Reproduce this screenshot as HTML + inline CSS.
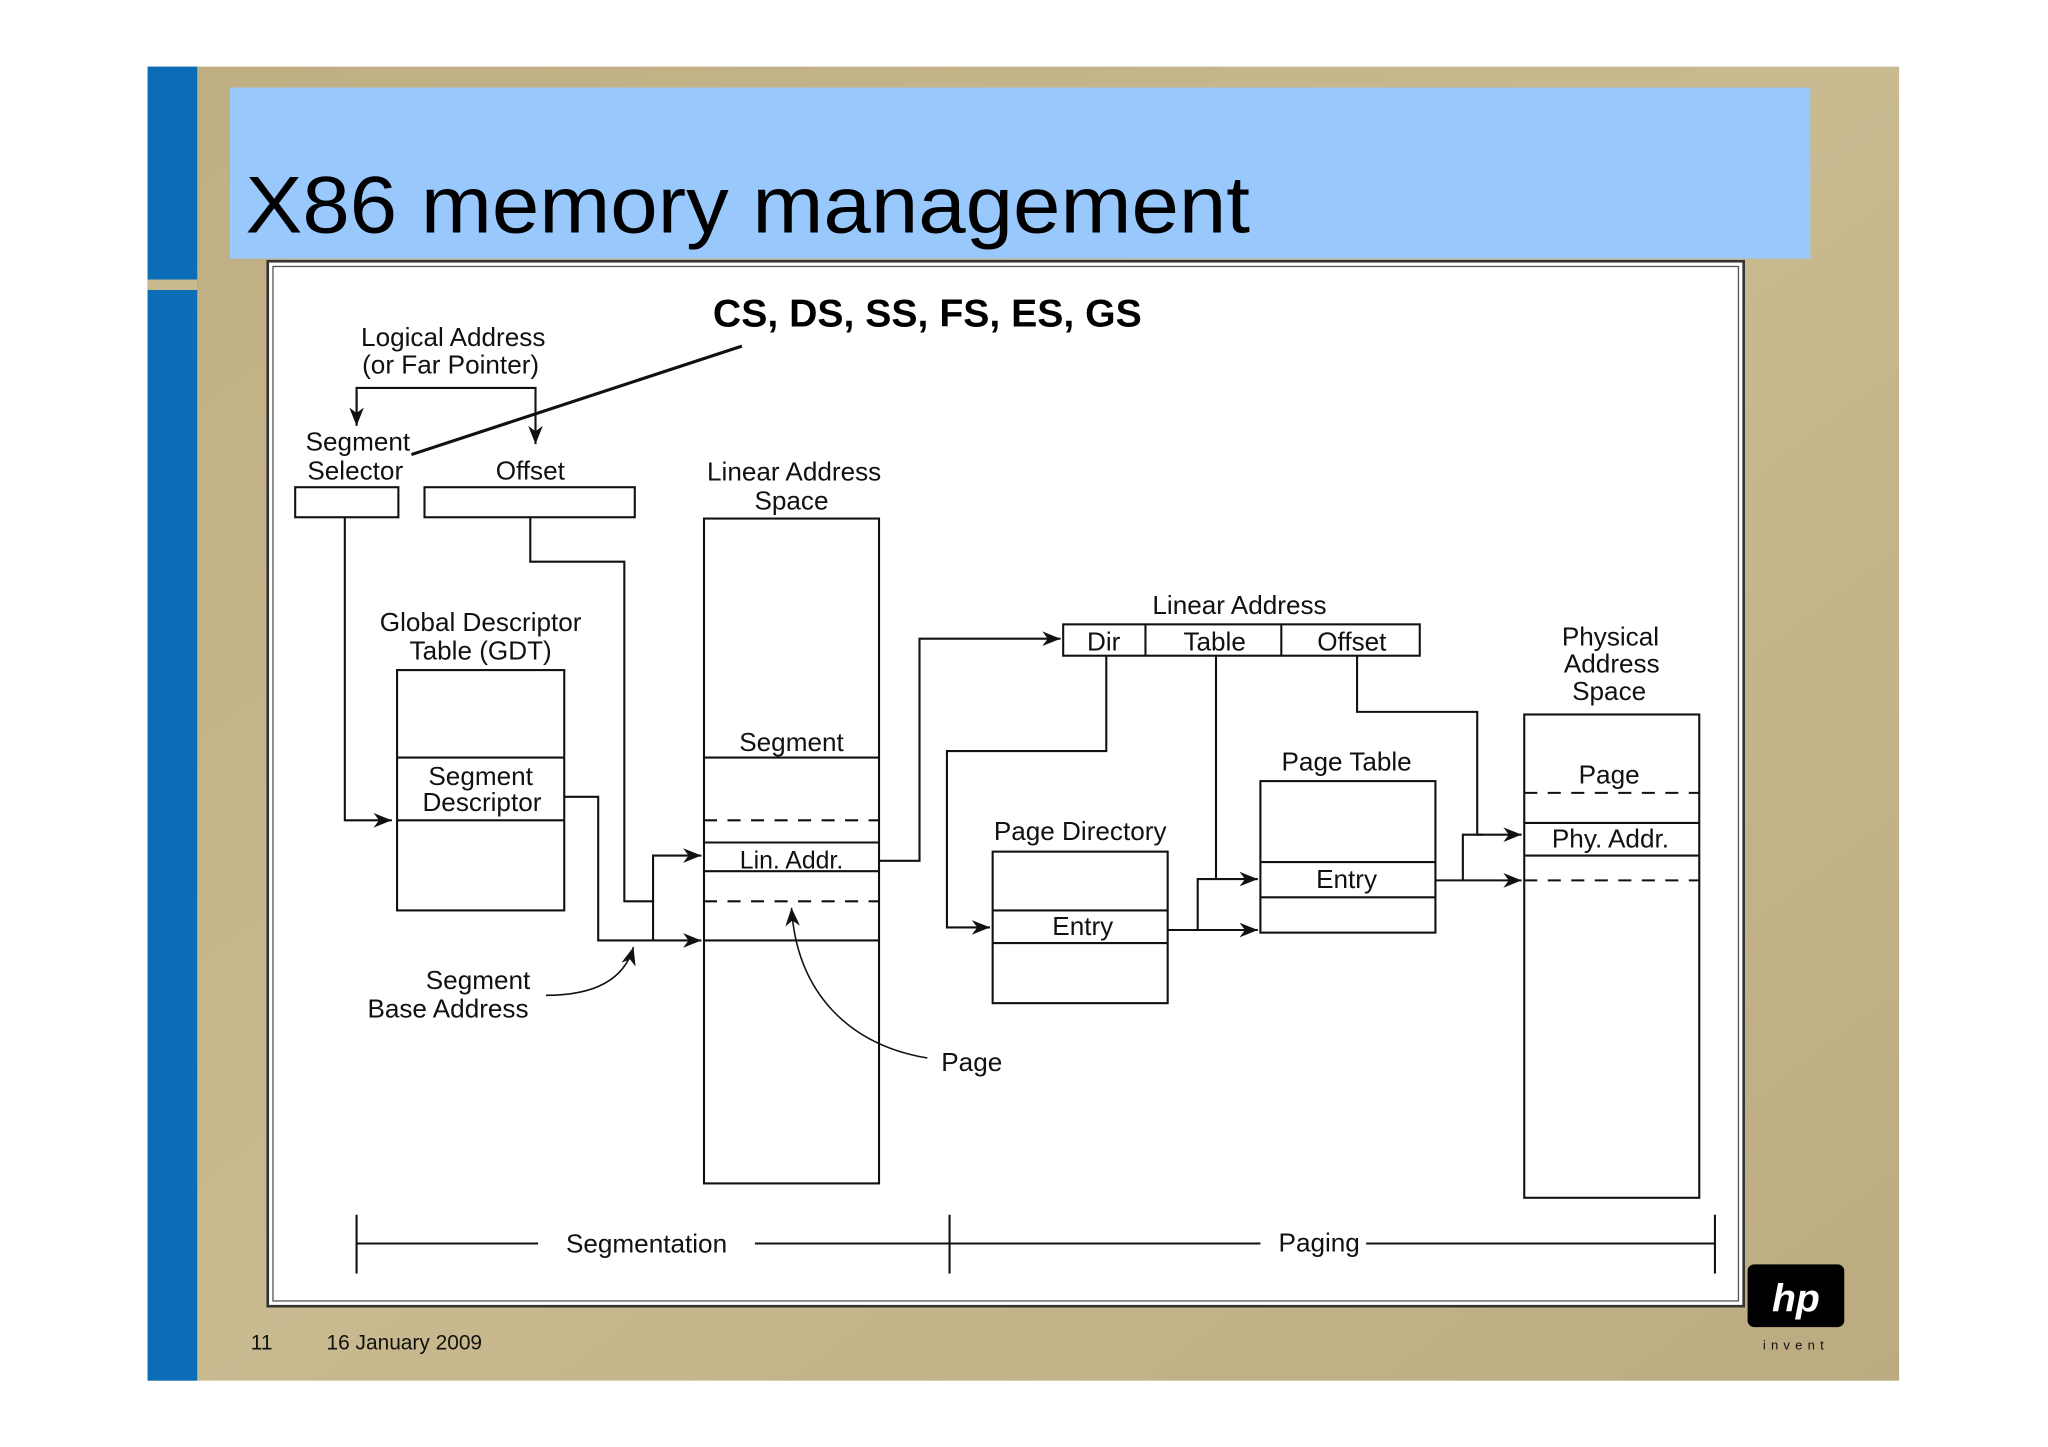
<!DOCTYPE html>
<html><head><meta charset="utf-8"><style>
html,body{margin:0;padding:0;background:#fff;}
svg{display:block;}
text{font-family:"Liberation Sans",sans-serif;fill:#111;}
</style></head><body>
<svg width="2048" height="1447" viewBox="0 0 1568 1107.8" preserveAspectRatio="none" xmlns="http://www.w3.org/2000/svg">
<defs>
<linearGradient id="tan" x1="0" y1="0" x2="1" y2="1">
<stop offset="0" stop-color="#bfae82"/><stop offset="0.5" stop-color="#c9ba90"/><stop offset="1" stop-color="#bcab80"/>
</linearGradient>
<marker id="ar" viewBox="0 0 10 10" refX="10" refY="5" markerWidth="30" markerHeight="14" markerUnits="userSpaceOnUse" orient="auto">
<path d="M0,1 L10,5 L0,9 L3,5 Z" fill="#111"/></marker>
</defs>
<rect x="113" y="51" width="1341" height="1006" fill="url(#tan)"/>
<rect x="113" y="51" width="38" height="1006" fill="#0a6db5"/>
<rect x="113" y="214" width="38" height="8" fill="#c9ba90"/>
<rect x="176" y="67" width="1210" height="131" fill="#99c8fc"/>
<text x="188" y="178" font-size="62" textLength="769" lengthAdjust="spacingAndGlyphs" style="fill:#000">X86 memory management</text>
<rect x="205" y="200" width="1130" height="800" fill="#fff" stroke="#333" stroke-width="2"/>
<rect x="209" y="204" width="1122" height="792" fill="none" stroke="#555" stroke-width="1"/>
<text x="192" y="1033" font-size="16">11</text>
<text x="250" y="1033" font-size="16">16 January 2009</text>
<rect x="1338" y="968" width="74" height="48" rx="5" fill="#000"/>
<text x="1375" y="1004" font-size="30" font-style="italic" font-weight="bold" text-anchor="middle" style="fill:#fff">hp</text>
<text x="1375" y="1033" font-size="10" text-anchor="middle" letter-spacing="4">invent</text>

<g stroke="#111" stroke-width="1.6" fill="none">
<line x1="568" y1="265" x2="315" y2="348" stroke-width="2.4"/>
<polyline points="273,325 273,297 410,297 410,340" marker-end="url(#ar)"/>
<line x1="273" y1="300" x2="273" y2="326" marker-end="url(#ar)"/>
<rect x="226" y="373" width="79" height="23"/>
<rect x="325" y="373" width="161" height="23"/>
<polyline points="264,396 264,628 300,628" marker-end="url(#ar)"/>
<polyline points="406,396 406,430 478,430 478,690 500,690 500,720"/>
<polyline points="500,690 500,655 537,655" marker-end="url(#ar)"/>
<rect x="304" y="513" width="128" height="184"/>
<line x1="304" y1="580" x2="432" y2="580"/><line x1="304" y1="628" x2="432" y2="628"/>
<polyline points="432,610 458,610 458,720 537,720" marker-end="url(#ar)"/>
<rect x="539" y="397" width="134" height="509"/>
<line x1="539" y1="580" x2="673" y2="580"/>
<line x1="539" y1="628" x2="673" y2="628" stroke-dasharray="10,8"/>
<line x1="539" y1="645" x2="673" y2="645"/>
<line x1="539" y1="667" x2="673" y2="667"/>
<line x1="539" y1="690" x2="673" y2="690" stroke-dasharray="10,8"/>
<line x1="539" y1="720" x2="673" y2="720"/>
<path d="M710,810 C650,800 610,760 606,695" marker-end="url(#ar)" stroke-width="1.2"/>
<path d="M418,762 C455,762 478,750 485,725" marker-end="url(#ar)" stroke-width="1.2"/>
<polyline points="673,659 704,659 704,489 812,489" marker-end="url(#ar)"/>
<rect x="814" y="478" width="273" height="24"/>
<line x1="877" y1="478" x2="877" y2="502"/><line x1="981" y1="478" x2="981" y2="502"/>
<polyline points="847,502 847,575 725,575 725,710 758,710" marker-end="url(#ar)"/>
<rect x="760" y="652" width="134" height="116"/>
<line x1="760" y1="697" x2="894" y2="697"/><line x1="760" y1="722" x2="894" y2="722"/>
<line x1="931" y1="502" x2="931" y2="673"/>
<polyline points="894,712 917,712 963,712" marker-end="url(#ar)"/>
<polyline points="917,712 917,673 963,673" marker-end="url(#ar)"/>
<rect x="965" y="598" width="134" height="116"/>
<line x1="965" y1="660" x2="1099" y2="660"/><line x1="965" y1="687" x2="1099" y2="687"/>
<polyline points="1039,502 1039,545 1131,545 1131,639 1165,639" marker-end="url(#ar)"/>
<polyline points="1099,674 1165,674" marker-end="url(#ar)"/>
<polyline points="1120,674 1120,639 1135,639"/>
<rect x="1167" y="547" width="134" height="370"/>
<line x1="1167" y1="607" x2="1301" y2="607" stroke-dasharray="10,8"/>
<line x1="1167" y1="630" x2="1301" y2="630"/>
<line x1="1167" y1="655" x2="1301" y2="655"/>
<line x1="1167" y1="674" x2="1301" y2="674" stroke-dasharray="10,8"/>
<line x1="273" y1="930" x2="273" y2="975"/><line x1="727" y1="930" x2="727" y2="975"/><line x1="1313" y1="930" x2="1313" y2="975"/>
<line x1="273" y1="952" x2="412" y2="952"/><line x1="578" y1="952" x2="965" y2="952"/><line x1="1046" y1="952" x2="1313" y2="952"/>
</g>
<g font-size="20" text-anchor="middle">
<text x="710" y="250" font-size="30" font-weight="bold" style="fill:#000">CS, DS, SS, FS, ES, GS</text>
<text x="347" y="265">Logical Address</text>
<text x="345" y="286">(or Far Pointer)</text>
<text x="274" y="345">Segment</text>
<text x="272" y="367">Selector</text>
<text x="406" y="367">Offset</text>
<text x="608" y="368">Linear Address</text>
<text x="606" y="390">Space</text>
<text x="368" y="483">Global Descriptor</text>
<text x="368" y="505">Table (GDT)</text>
<text x="368" y="601">Segment</text>
<text x="369" y="621">Descriptor</text>
<text x="606" y="575">Segment</text>
<text x="606" y="665" font-size="19">Lin. Addr.</text>
<text x="366" y="757">Segment</text>
<text x="343" y="779">Base Address</text>
<text x="744" y="820">Page</text>
<text x="949" y="470">Linear Address</text>
<text x="845" y="498">Dir</text>
<text x="930" y="498">Table</text>
<text x="1035" y="498">Offset</text>
<text x="827" y="643">Page Directory</text>
<text x="829" y="716">Entry</text>
<text x="1031" y="590">Page Table</text>
<text x="1031" y="680">Entry</text>
<text x="1233" y="494">Physical</text>
<text x="1234" y="515">Address</text>
<text x="1232" y="536">Space</text>
<text x="1232" y="600">Page</text>
<text x="1233" y="649">Phy. Addr.</text>
<text x="495" y="959">Segmentation</text>
<text x="1010" y="958">Paging</text>
</g>
</svg>
</body></html>
